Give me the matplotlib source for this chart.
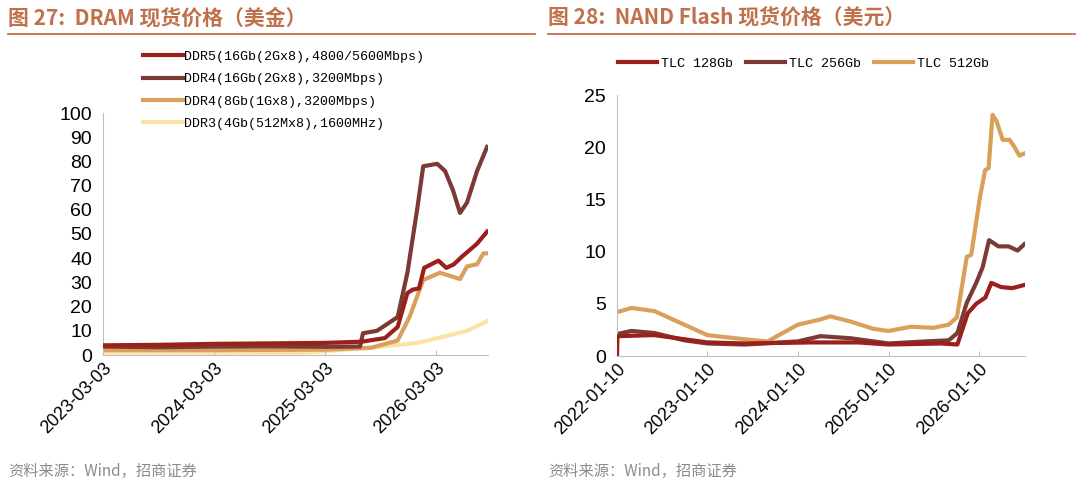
import numpy as np
import pandas as pd
import matplotlib
matplotlib.use("Agg")
import matplotlib.pyplot as plt
import matplotlib.dates as mdates

plt.rcParams['font.family'] = ['Noto Sans CJK SC', 'DejaVu Sans']

# DRAM spot prices (USD)
ddr5_d = ['2023-03-03', '2023-09-01', '2024-03-01', '2024-09-01', '2025-03-01', '2025-07-01', '2025-09-15',
          '2025-10-27', '2025-11-28', '2025-12-15', '2026-01-05', '2026-01-22', '2026-03-10', '2026-04-05',
          '2026-04-30', '2026-05-25', '2026-07-15', '2026-08-17']
ddr5_v = [4, 4.2, 4.6, 4.8, 5, 5.5, 7, 11.6, 25.6, 27, 27.5, 36, 39, 36, 37.5, 40.5, 46, 51]
ddr4a_d = ['2023-03-03', '2023-09-01', '2024-03-01', '2024-09-01', '2025-03-01', '2025-06-25', '2025-07-05',
           '2025-08-20', '2025-10-27', '2025-11-28', '2025-12-31', '2026-01-19', '2026-03-06', '2026-04-01',
           '2026-04-27', '2026-05-20', '2026-06-12', '2026-07-15', '2026-08-17']
ddr4a_v = [3.5, 3.2, 3.5, 3.6, 3.4, 3.5, 9, 10, 15.7, 34, 61, 78, 79, 76, 68, 58.7, 63, 76, 86]
ddr4b_d = ['2023-03-03', '2024-03-01', '2025-03-01', '2025-08-01', '2025-10-27', '2025-12-05', '2026-01-19',
           '2026-03-15', '2026-05-20', '2026-06-12', '2026-07-15', '2026-08-05', '2026-08-17']
ddr4b_v = [2, 2, 2.2, 3, 6, 15.7, 31, 34, 31.4, 36.6, 37.5, 42, 42]
ddr3_d = ['2023-03-03', '2024-03-01', '2025-01-01', '2025-08-01', '2025-12-31', '2026-04-10', '2026-06-12',
          '2026-08-17']
ddr3_v = [1, 1, 1, 3, 5, 8, 10, 14]

# NAND spot prices (USD)
tlc512_d = ['2022-01-10', '2022-03-10', '2022-06-10', '2023-01-10', '2023-06-10', '2023-09-10', '2024-01-10',
            '2024-04-10', '2024-05-20', '2024-08-10', '2024-11-10', '2025-01-10', '2025-04-10', '2025-07-10',
            '2025-09-10', '2025-10-13', '2025-11-22', '2025-12-10', '2026-01-14', '2026-02-04', '2026-02-18',
            '2026-03-06', '2026-03-22', '2026-04-16', '2026-05-14', '2026-06-03', '2026-06-22', '2026-07-12']
tlc512_v = [4.2, 4.6, 4.3, 2.0, 1.6, 1.4, 3.0, 3.5, 3.8, 3.3, 2.6, 2.4, 2.8, 2.7, 3.0, 3.7, 9.5, 9.7, 15.2,
            17.8, 18, 23.1, 22.5, 20.7, 20.7, 20, 19.2, 19.4]
tlc256_d = ['2022-01-10', '2022-03-10', '2022-06-10', '2022-10-10', '2023-01-10', '2023-06-10', '2024-01-10',
            '2024-04-10', '2024-08-10', '2025-01-10', '2025-06-10', '2025-09-10', '2025-10-15', '2025-11-22',
            '2025-12-30', '2026-01-25', '2026-02-20', '2026-03-30', '2026-05-10', '2026-06-15', '2026-07-12']
tlc256_v = [2.1, 2.4, 2.2, 1.5, 1.2, 1.1, 1.4, 1.9, 1.7, 1.2, 1.4, 1.5, 2.2, 5.1, 7, 8.5, 11.1, 10.5, 10.5,
            10.1, 10.7]
tlc128_d = ['2022-01-10', '2022-01-12', '2022-06-10', '2022-09-10', '2023-01-10', '2023-06-10', '2024-03-10',
            '2024-09-10', '2025-01-10', '2025-08-10', '2025-10-15', '2025-11-26', '2025-12-30', '2026-02-05',
            '2026-03-01', '2026-04-10', '2026-05-25', '2026-07-12']
tlc128_v = [0, 1.9, 2.0, 1.7, 1.3, 1.2, 1.3, 1.3, 1.1, 1.2, 1.1, 4.1, 5, 5.6, 7, 6.6, 6.5, 6.8]

c_red = '#9b1f1a'
c_brown = '#7b3a35'
c_tan = '#d9a05b'
c_pale = '#fbe3a6'
title_c = '#c0714c'

fig = plt.figure(figsize=(10.8, 4.94), dpi=100)


def style_ax(ax):
    for s in ['top', 'right']:
        ax.spines[s].set_visible(False)
    ax.spines['bottom'].set_color('#bfbfbf')
    ax.spines['left'].set_color('#bfbfbf')
    ax.tick_params(axis='y', length=0, labelsize=14, pad=8)
    ax.tick_params(axis='x', direction='in', color='#bfbfbf', labelsize=13)
    for lb in ax.get_xticklabels() + ax.get_yticklabels():
        lb.set_family('Liberation Sans')
    plt.setp(ax.get_xticklabels(), rotation=45, ha='right', rotation_mode='anchor')


leg_font = {'family': 'Liberation Mono', 'size': 9.6}

# left chart
ax1 = fig.add_axes([103 / 1080, 1 - 355 / 494, 385 / 1080, 242 / 494])
ax1.plot(pd.to_datetime(ddr5_d), ddr5_v, color=c_red, lw=3, label='DDR5(16Gb(2Gx8),4800/5600Mbps)', zorder=4)
ax1.plot(pd.to_datetime(ddr4a_d), ddr4a_v, color=c_brown, lw=3, label='DDR4(16Gb(2Gx8),3200Mbps)', zorder=3)
ax1.plot(pd.to_datetime(ddr4b_d), ddr4b_v, color=c_tan, lw=3, label='DDR4(8Gb(1Gx8),3200Mbps)', zorder=2)
ax1.plot(pd.to_datetime(ddr3_d), ddr3_v, color=c_pale, lw=3, label='DDR3(4Gb(512Mx8),1600MHz)', zorder=1)
ax1.set_ylim(0, 100)
ax1.set_yticks(range(0, 101, 10))
ax1.set_xlim(pd.Timestamp('2023-03-03'), pd.Timestamp('2026-08-20'))
ax1.set_xticks(pd.to_datetime(['2023-03-03', '2024-03-03', '2025-03-03', '2026-03-03']))
ax1.xaxis.set_major_formatter(mdates.DateFormatter('%Y-%m-%d'))
style_ax(ax1)
ax1.legend(loc='upper left', bbox_to_anchor=(0.09, 1.28), frameon=False, prop=leg_font,
           handlelength=3.0, handletextpad=0.1, labelspacing=0.75, borderaxespad=0)

# right chart
ax2 = fig.add_axes([617 / 1080, 1 - 356 / 494, 408 / 1080, 261 / 494])
ax2.plot(pd.to_datetime(tlc128_d), tlc128_v, color=c_red, lw=3, label='TLC 128Gb', zorder=3)
ax2.plot(pd.to_datetime(tlc256_d), tlc256_v, color=c_brown, lw=3, label='TLC 256Gb', zorder=2)
ax2.plot(pd.to_datetime(tlc512_d), tlc512_v, color=c_tan, lw=3, label='TLC 512Gb', zorder=1)
ax2.set_ylim(0, 25)
ax2.set_yticks(range(0, 26, 5))
ax2.set_xlim(pd.Timestamp('2022-01-10'), pd.Timestamp('2026-07-15'))
ax2.set_xticks(pd.to_datetime(['2022-01-10', '2023-01-10', '2024-01-10', '2025-01-10', '2026-01-10']))
ax2.xaxis.set_major_formatter(mdates.DateFormatter('%Y-%m-%d'))
style_ax(ax2)
ax2.legend(loc='upper left', bbox_to_anchor=(-0.01, 1.165), frameon=False, ncol=3, prop=leg_font,
           handlelength=2.9, handletextpad=0.3, columnspacing=1.0, borderaxespad=0)

# titles, rules and sources
fig.text(8 / 1080, 1 - 18 / 494, '图 27:  DRAM 现货价格（美金）', color=title_c, fontsize=15,
         fontweight='bold', va='center')
fig.text(548 / 1080, 1 - 18 / 494, '图 28:  NAND Flash 现货价格（美元）', color=title_c, fontsize=15,
         fontweight='bold', va='center')
fig.add_artist(plt.Line2D([8 / 1080, 535 / 1080], [1 - 34 / 494] * 2, color=title_c, lw=1.3))
fig.add_artist(plt.Line2D([548 / 1080, 1075 / 1080], [1 - 34 / 494] * 2, color=title_c, lw=1.3))
fig.text(8 / 1080, 1 - 471 / 494, '资料来源：Wind，招商证券', color='#8c8c8c', fontsize=11, va='center')
fig.text(548 / 1080, 1 - 471 / 494, '资料来源：Wind，招商证券', color='#8c8c8c', fontsize=11, va='center')

fig.savefig('out.png', dpi=100)
